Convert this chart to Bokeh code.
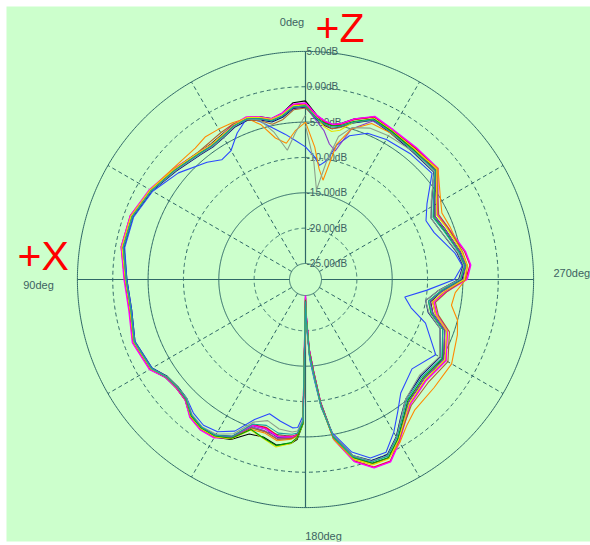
import numpy as np
from bokeh.plotting import figure
from bokeh.models import Range1d
from bokeh.core.properties import value
from bokeh.embed import file_html
from bokeh.resources import INLINE

# ---------------- data (dB vs angle, 0deg at top, counter-clockwise) ----------------
ANGLES = [0, 4, 8, 12, 16, 20, 25, 30, 35, 40,
          50, 60, 70, 80, 90, 100, 110, 120, 125, 130, 135,
          140, 145, 150, 155, 160, 165, 170, 175, 177, 179, 180,
          181, 183, 185, 187, 190, 195, 200, 205, 210, 215,
          220, 230, 240, 250, 255, 260, 265, 270, 275, 280,
          290, 296, 302, 310, 320, 330, 337, 343, 347, 350,
          353, 356, 360]

black = [-2.0, -2.2, -3.5, -4.0, -3.3, -2.9, -3.1, -3.6, -3.9, -3.8,
         -3.0, -1.9, -1.0, -0.9, -1.7, -2.0, -1.3, -1.9, -3.1, -3.4, -3.2,
         -1.9, -1.4, -1.5, -2.3, -4.0, -4.2, -3.5, -4.0, -4.6, -6.8, -24.8,
         -22.5, -17.5, -14.3, -9.8, -4.8, -1.2, 0.4, 0.6, -1.1, -3.1,
         -4.6, -5.4, -4.7, -6.3, -8.6, -9.3, -7.9, -5.1, -4.5, -5.0,
         -6.3, -6.9, -5.7, -3.2, -3.1, -2.8, -2.3, -3.5, -4.6, -5.0,
         -4.8, -4.0, -2.0]

navy = [-2.9, -3.0, -4.1, -4.5, -3.8, -3.3, -3.5, -4.1, -4.4, -4.2,
        -3.4, -2.2, -1.3, -1.2, -2.0, -2.3, -1.6, -2.2, -3.4, -3.7, -3.5,
        -2.2, -1.7, -1.8, -2.8, -5.3, -5.4, -4.6, -4.9, -5.3, -7.3, -24.2,
        -21.5, -16.5, -13.5, -9.2, -4.9, -1.5, 0.0, 0.1, -1.6, -3.7,
        -5.2, -6.0, -5.3, -7.0, -9.3, -10.0, -8.5, -5.6, -4.9, -5.5,
        -7.0, -7.5, -6.2, -3.6, -3.7, -3.3, -2.8, -4.1, -5.1, -5.6,
        -5.3, -4.6, -2.9]

blue = [-8.5, -7.6, -6.5, -5.4, -4.0, -3.0, -4.4, -6.2, -6.6, -5.6,
        -3.8, -2.3, -1.4, -1.3, -2.0, -2.3, -1.6, -2.2, -3.3, -3.6, -3.5,
        -2.6, -2.1, -2.4, -3.6, -6.2, -7.6, -6.9, -6.2, -6.3, -8.0, -23.5,
        -21.0, -16.0, -13.0, -9.0, -5.2, -2.0, -0.4, -0.3, -2.3, -4.5,
        -6.3, -7.6, -6.0, -9.2, -11.8, -13.0, -10.0, -6.2, -5.0, -5.8,
        -7.9, -8.3, -7.0, -3.9, -4.1, -4.4, -4.8, -6.0, -7.8, -10.2,
        -11.0, -9.8, -8.5]

red = [-2.4, -2.5, -3.6, -4.1, -3.4, -2.9, -3.2, -3.8, -4.0, -3.8,
       -3.0, -1.9, -0.9, -0.8, -1.7, -2.0, -1.3, -1.9, -3.2, -3.4, -3.2,
       -1.9, -1.4, -1.5, -2.7, -5.4, -5.6, -4.8, -5.0, -5.3, -7.0, -24.6,
       -22.2, -17.2, -14.2, -9.6, -4.4, -0.7, 1.0, 1.1, -0.8, -2.8,
       -4.3, -5.1, -4.4, -6.0, -8.2, -9.0, -7.5, -4.6, -3.9, -4.4,
       -5.9, -6.5, -5.3, -2.9, -3.0, -2.8, -2.3, -3.6, -4.7, -5.1,
       -4.8, -4.1, -2.4]

magenta = [-2.3, -2.4, -3.5, -4.0, -3.3, -2.8, -3.1, -3.7, -4.0, -3.8,
           -2.9, -1.8, -0.9, -0.8, -1.6, -1.9, -1.2, -1.8, -3.1, -3.4, -3.2,
           -1.8, -1.3, -1.4, -2.6, -5.3, -5.4, -4.7, -4.9, -5.2, -6.9, -25.0,
           -22.6, -17.4, -14.3, -9.7, -4.3, -0.6, 1.1, 1.2, -0.7, -2.7,
           -4.2, -5.0, -4.3, -5.9, -8.0, -8.8, -7.3, -4.4, -3.8, -4.3,
           -5.8, -6.4, -5.2, -2.8, -2.9, -2.7, -2.2, -3.5, -4.6, -5.0,
           -4.7, -4.0, -2.3]

purple = [-2.8, -2.9, -3.9, -4.3, -3.6, -3.0, -3.2, -3.8, -4.1, -3.9,
          -3.1, -2.0, -1.1, -1.0, -1.8, -2.1, -1.4, -2.0, -3.2, -3.5, -3.3,
          -2.0, -1.5, -1.7, -2.7, -5.1, -5.1, -4.4, -4.7, -5.1, -7.0, -24.4,
          -22.0, -17.0, -14.0, -9.5, -4.6, -1.1, 0.5, 0.6, -1.1, -3.1,
          -4.6, -5.4, -4.7, -6.3, -8.6, -9.4, -7.9, -5.0, -4.5, -5.0,
          -6.3, -6.9, -5.7, -3.2, -3.4, -3.1, -2.9, -5.0, -8.6, -7.8,
          -6.0, -4.8, -2.8]

orange = [-5.0, -6.2, -7.8, -6.8, -4.5, -3.0, -2.8, -2.7, -2.6, -3.0,
          -2.8, -1.9, -1.0, -1.0, -1.8, -2.1, -1.4, -2.0, -3.3, -3.6, -3.4,
          -2.1, -1.5, -1.6, -2.4, -4.7, -4.8, -4.1, -4.6, -5.1, -7.1, -24.3,
          -21.8, -16.8, -13.8, -9.3, -4.3, -0.9, 0.6, 0.6, -0.6, -2.2,
          -3.2, -3.5, -3.4, -4.4, -5.0, -6.3, -6.0, -4.6, -4.3, -4.8,
          -5.5, -5.8, -4.8, -2.8, -3.4, -3.3, -3.3, -5.0, -7.6, -13.0,
          -11.5, -8.5, -5.0]

brown = [-3.0, -3.2, -4.4, -4.8, -3.9, -3.2, -3.0, -3.3, -3.6, -3.7,
         -3.0, -2.0, -1.1, -1.0, -1.8, -2.1, -1.4, -2.0, -3.2, -3.5, -3.3,
         -2.0, -1.5, -1.6, -2.5, -4.9, -5.0, -4.3, -4.7, -5.2, -7.0, -24.4,
         -22.0, -17.0, -14.0, -9.4, -4.5, -1.0, 0.5, 0.6, -0.9, -2.7,
         -4.0, -4.6, -4.0, -5.6, -7.8, -8.6, -7.2, -4.7, -4.3, -4.7,
         -5.8, -6.3, -5.2, -3.0, -3.2, -3.0, -2.7, -4.0, -5.2, -5.6,
         -5.2, -4.4, -3.0]

yellow = [-2.6, -2.6, -3.7, -4.1, -3.4, -2.9, -3.2, -3.7, -4.0, -3.8,
          -3.0, -1.9, -1.0, -0.9, -1.8, -2.1, -1.4, -2.0, -3.3, -3.6, -3.4,
          -2.0, -1.5, -1.6, -2.4, -4.6, -4.0, -3.2, -4.0, -4.8, -6.8, -24.2,
          -21.8, -16.8, -13.8, -9.3, -4.5, -1.0, 0.6, 0.7, -1.0, -2.9,
          -4.4, -5.2, -4.5, -6.0, -8.2, -9.0, -7.6, -4.8, -4.3, -4.8,
          -6.0, -6.6, -5.4, -3.0, -3.2, -2.9, -2.5, -4.0, -5.6, -6.0,
          -5.5, -4.4, -2.6]

green = [-2.7, -2.8, -3.9, -4.3, -3.6, -3.1, -3.3, -3.9, -4.2, -4.0,
         -3.2, -2.1, -1.2, -1.1, -1.9, -2.2, -1.5, -2.1, -3.3, -3.6, -3.4,
         -2.1, -1.6, -1.7, -2.5, -4.7, -4.1, -3.4, -4.1, -4.9, -6.9, -24.3,
         -21.9, -16.9, -13.9, -9.4, -4.6, -1.2, 0.4, 0.5, -1.2, -3.2,
         -4.8, -5.6, -4.9, -6.6, -8.9, -9.6, -8.1, -5.3, -4.7, -5.2,
         -6.5, -7.1, -5.9, -3.3, -3.4, -3.0, -2.6, -3.9, -4.9, -5.2,
         -5.0, -4.4, -2.7]

gray = [-4.0, -6.5, -8.8, -6.0, -3.8, -3.1, -3.4, -4.0, -4.3, -4.1,
        -3.3, -2.1, -1.2, -1.1, -1.9, -2.2, -1.5, -2.1, -3.3, -3.6, -3.5,
        -2.3, -1.8, -2.0, -3.2, -5.8, -6.6, -5.8, -5.6, -5.8, -7.5, -24.0,
        -21.5, -16.5, -13.5, -9.2, -4.9, -1.5, 0.1, 0.2, -1.5, -3.6,
        -5.2, -6.2, -5.4, -7.0, -9.2, -10.0, -8.5, -5.5, -4.8, -5.4,
        -7.0, -7.5, -6.3, -3.5, -3.6, -3.8, -4.0, -4.8, -6.5, -10.5,
        -14.5, -10.5, -5.5]

teal = [-2.7, -2.8, -3.9, -4.3, -3.6, -3.1, -3.3, -3.9, -4.2, -4.0,
        -3.2, -2.1, -1.2, -1.1, -1.9, -2.2, -1.5, -2.1, -3.3, -3.6, -3.4,
        -2.2, -1.7, -1.8, -2.8, -5.5, -5.9, -5.2, -5.3, -5.5, -7.2, -24.2,
        -21.6, -16.6, -13.6, -9.2, -4.7, -1.3, 0.2, 0.3, -1.4, -3.4,
        -5.0, -5.8, -5.0, -6.6, -8.8, -9.6, -8.1, -5.3, -4.6, -5.2,
        -6.6, -7.2, -5.9, -3.3, -3.5, -3.2, -2.7, -4.0, -5.0, -5.4,
        -5.1, -4.5, -2.7]

SERIES = [black, navy, blue, red, magenta, purple, orange, brown,
          yellow, green, gray, teal]
SERIES_COLORS = ["#000000", "#000080", "#2a48ff", "#e8102a", "#ff00ff", "#8a3cc8",
                 "#ff8a00", "#b0602a", "#e4e400", "#00a000", "#8ca08c", "#1aa0a0"]
SERIES_WIDTHS = [1.1, 1.1, 1.1, 1.4, 1.4, 1.1, 1.1, 1.1, 1.1, 1.1, 1.1, 1.1]

DB_TICKS = [5, 0, -5, -10, -15, -20, -25]
DB_TICK_LABELS = ["5.00dB", "0.00dB", "-5.00dB", "-10.00dB", "-15.00dB", "-20.00dB", "-25.00dB"]
DB_TICK_DASHED = [False, True, False, True, False, True, False]
SPOKE_ANGLES = [30, 60, 120, 150, 210, 240, 300, 330]
AXIS_ANGLES = [0, 90, 180, 270]
ANGLE_LABELS = ["0deg", "90deg", "270deg", "180deg"]
AXIS_MARKERS = ["+Z", "+X"]

# ---------------- polar scale (pixels) ----------------
R_FLOOR = 16.0       # radius of the -25 dB ring
PX_PER_DB = 7.07
DB_FLOOR = -25.0


def radius(db):
    return R_FLOOR + (np.asarray(db, dtype=float) - DB_FLOOR) * PX_PER_DB


def to_xy(ang_deg, r):
    t = np.radians(np.asarray(ang_deg, dtype=float))
    return -r * np.sin(t), r * np.cos(t)


GRID = "#2f6767"
TEXT = "#3d6262"
BG = "#ccffcc"

# frame spans page pixels 6..590 (x) and 6..541 (y); pole at page pixel (305, 279)
p = figure(width=590, height=545, x_range=Range1d(-299, 285), y_range=Range1d(-262, 273),
           output_backend="svg", toolbar_location=None,
           min_border_left=6, min_border_top=6, min_border_right=0, min_border_bottom=4,
           x_axis_location=None, y_axis_location=None)
p.grid.visible = False
p.outline_line_color = None
p.background_fill_color = BG
p.border_fill_color = "#ffffff"

r_out = float(radius(max(DB_TICKS)))
r_in = float(radius(min(DB_TICKS)))

# rings
full = np.linspace(0, 360, 721)
for db, dashed in zip(DB_TICKS, DB_TICK_DASHED):
    xs, ys = to_xy(full, radius(db))
    p.line(xs, ys, line_color=GRID, line_width=1, line_dash="4 3" if dashed else "solid")

# spokes
for a in SPOKE_ANGLES:
    xs, ys = to_xy([a, a], np.array([r_in, r_out]))
    p.line(xs, ys, line_color=GRID, line_width=1, line_dash="4 3")
for a in AXIS_ANGLES:
    xs, ys = to_xy([a, a], np.array([r_in, r_out]))
    p.line(xs, ys, line_color=GRID, line_width=1.2)

# dB labels along the 0deg axis
lx, ly = to_xy([0] * len(DB_TICKS), radius(DB_TICKS))
p.text(x=list(lx + 1), y=list(ly), text=DB_TICK_LABELS, text_color=TEXT,
       text_font=value("Liberation Sans"), text_font_size="10px",
       text_align="left", text_baseline="middle")

# angle labels
p.text(x=[-13.5, -267, 248, 18], y=[258, -5, 7, -256],
       text=ANGLE_LABELS, text_color=TEXT,
       text_font=value("Liberation Sans"), text_font_size="11px",
       text_align=["center", "center", "left", "center"], text_baseline="middle")

# traces
ang = np.asarray(ANGLES, dtype=float)
for vals, col, w in zip(SERIES, SERIES_COLORS, SERIES_WIDTHS):
    xs, ys = to_xy(ang, radius(vals))
    p.line(xs, ys, line_color=col, line_width=w)

# big red axis markers
p.text(x=[10, -288], y=[252, 24], text=AXIS_MARKERS, text_color="#ff0000",
       text_font=value("Liberation Sans"), text_font_size="41px",
       text_align="left", text_baseline="middle")

open("out.html", "w").write(file_html(p, INLINE))
